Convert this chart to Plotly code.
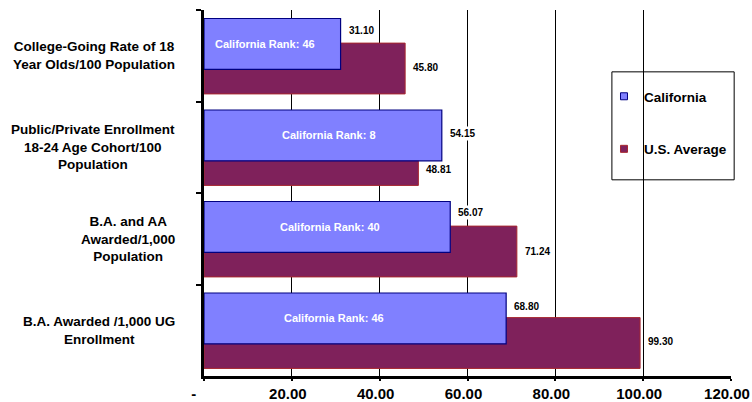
import plotly.graph_objects as go

# Indicators (top to bottom)
categories = [
    "College-Going Rate of 18<br>Year Olds/100 Population",
    "Public/Private Enrollment<br>18-24 Age Cohort/100<br>Population",
    "B.A. and AA<br>Awarded/1,000<br>Population",
    "B.A. Awarded /1,000 UG<br>Enrollment",
]
california = [31.10, 54.15, 56.07, 68.80]
us_average = [45.80, 48.81, 71.24, 99.30]
california_rank = [46, 8, 40, 46]

x_ticks = [0, 20, 40, 60, 80, 100, 120]
x_tick_text = ["-", "20.00", "40.00", "60.00", "80.00", "100.00", "120.00"]

# Styling
FONT = "Arial, Liberation Sans, sans-serif"
CA_FILL, CA_LINE = "#8080FF", "#000080"
US_FILL, US_LINE = "#7F215B", "#A8262E"
BAR_W = 0.555
CA_OFFSET = -0.407
US_OFFSET = -0.138
rank_label_x = [13.9, 28.5, 28.7, 29.6]
ca_label_dy = [13, 2, 14, 12]
us_label_dy = [1, -9, 0, 2]
NBSP = "\u00a0"
# the zero label ("-") sits a little further left than the others
tick_pad = [3, 0, 0, 0, 0, 0, 0]

fig = go.Figure()

fig.add_trace(go.Bar(
    y=categories, x=us_average, orientation="h",
    width=BAR_W, offset=US_OFFSET,
    marker=dict(color=US_FILL, line=dict(color=US_LINE, width=1)),
    name="U.S. Average", showlegend=False, hoverinfo="x+name",
))
fig.add_trace(go.Bar(
    y=categories, x=california, orientation="h",
    width=BAR_W, offset=CA_OFFSET,
    marker=dict(color=CA_FILL, line=dict(color=CA_LINE, width=1.2)),
    name="California", showlegend=False, hoverinfo="x+name",
))

# Legend entries with small square swatches
fig.add_trace(go.Scatter(
    x=[None], y=[None], mode="markers", name="California", legendgroup="ca",
    marker=dict(symbol="square", size=7, color=CA_FILL, line=dict(color=CA_LINE, width=1)),
))
fig.add_trace(go.Scatter(
    x=[None], y=[None], mode="markers", name="U.S. Average", legendgroup="us",
    marker=dict(symbol="square", size=7, color=US_FILL, line=dict(color=US_LINE, width=1)),
))

annotations = []
for i, cat in enumerate(categories):
    # category label, centered lines, left of the axis
    annotations.append(dict(
        x=0, xref="paper", xanchor="right", xshift=-27,
        y=i, yref="y", yanchor="middle", text=cat, align="center",
        showarrow=False, font=dict(family=FONT, size=13.5, color="black", weight="bold"),
    ))
    ca_center = i + CA_OFFSET + BAR_W / 2
    us_center = i + US_OFFSET + BAR_W / 2
    annotations.append(dict(
        x=rank_label_x[i], y=ca_center, xref="x", yref="y",
        text=f"California Rank: {california_rank[i]}", showarrow=False,
        font=dict(family=FONT, size=11, color="white", weight="bold"),
    ))
    annotations.append(dict(
        x=california[i], y=ca_center, xref="x", yref="y", xanchor="left", xshift=6,
        yshift=ca_label_dy[i], text=f"{california[i]:.2f}", showarrow=False,
        bgcolor="white", borderpad=1,
        font=dict(family=FONT, size=10, color="black", weight="bold"),
    ))
    annotations.append(dict(
        x=us_average[i], y=us_center, xref="x", yref="y", xanchor="left", xshift=6,
        yshift=us_label_dy[i], text=f"{us_average[i]:.2f}", showarrow=False,
        bgcolor="white", borderpad=1,
        font=dict(family=FONT, size=10, color="black", weight="bold"),
    ))

fig.update_layout(
    width=752, height=402,
    margin=dict(l=204, r=21, t=10, b=26, autoexpand=False),
    paper_bgcolor="white", plot_bgcolor="white",
    barmode="overlay",
    font=dict(family=FONT, color="black"),
    annotations=annotations,
    shapes=[dict(
        type="rect", xref="paper", yref="paper",
        x0=0.774, x1=1.006, y0=0.536, y1=0.831,
        line=dict(color="black", width=1), fillcolor="white", layer="between",
    )],
    legend=dict(
        x=0.759, y=0.806, xanchor="left", yanchor="top",
        bgcolor="rgba(0,0,0,0)", borderwidth=0,
        tracegroupgap=32, traceorder="grouped",
        font=dict(family=FONT, size=13.5, color="black", weight="bold"),
    ),
    xaxis=dict(
        range=[0, 120], tickvals=x_ticks,
        ticktext=[t + NBSP * n for t, n in zip(x_tick_text, tick_pad)],
        showgrid=True, gridcolor="black", gridwidth=1,
        zeroline=False, showline=True, linecolor="black", linewidth=3,
        ticks="outside", ticklen=2, tickwidth=2, tickcolor="black",
        tickfont=dict(family=FONT, size=15, color="black", weight="bold"),
        ticklabelshift=-4, ticklabeloverflow="allow",
        automargin=False, fixedrange=True,
    ),
    yaxis=dict(
        type="category", categoryorder="array", categoryarray=categories,
        range=[3.5, -0.5], showticklabels=False, showgrid=False,
        showline=True, linecolor="black", linewidth=3,
        ticks="outside", tickson="boundaries", ticklen=5, tickwidth=2, tickcolor="black",
        automargin=False, fixedrange=True,
    ),
)

fig.write_html("out.html")
